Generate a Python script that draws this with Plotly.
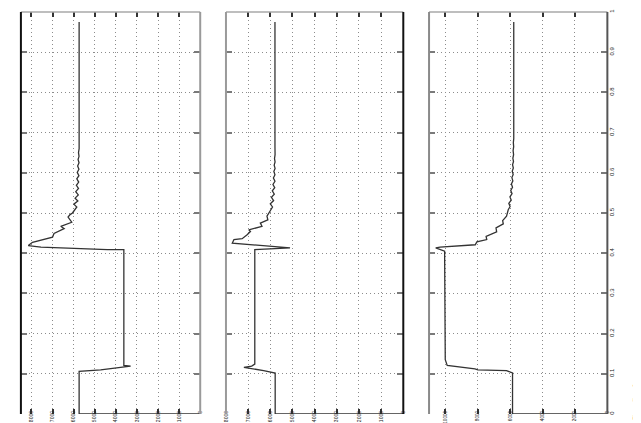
import plotly.graph_objects as go

# ---------------- data (time on vertical axis, value on horizontal axis) -------------
p1_t = [0, 0, 0.106, 0.108, 0.110, 0.119, 0.121, 0.409, 0.409, 0.415, 0.419, 0.427, 0.440,
        0.449, 0.461, 0.467, 0.477, 0.490, 0.496, 0.500, 0.508, 0.515, 0.522, 0.530, 0.537,
        0.545, 0.553, 0.561, 0.569, 0.577, 0.585, 0.593, 0.601, 0.609, 0.617, 0.625, 0.633,
        0.641, 0.650, 0.660, 0.975]
p1_v = [0, 5740, 5740, 5050, 4720, 3300, 3620, 3620, 4400, 7550, 8150, 7950, 7000,
        6930, 6450, 6610, 6090, 6265, 6170, 6055, 5945, 5850, 5990, 5800, 5930,
        5780, 5900, 5770, 5870, 5760, 5850, 5750, 5830, 5750, 5810, 5745, 5790,
        5745, 5770, 5740, 5740]

p2_t = [0, 0, 0.102, 0.104, 0.108, 0.116, 0.119, 0.124, 0.409, 0.413, 0.425, 0.434, 0.436,
        0.446, 0.454, 0.458, 0.467, 0.475, 0.483, 0.492, 0.500, 0.508, 0.515, 0.523, 0.531,
        0.539, 0.547, 0.555, 0.563, 0.571, 0.579, 0.587, 0.595, 0.603, 0.611, 0.619, 0.627,
        0.635, 0.645, 0.655, 0.665, 0.975]
p2_v = [0, 5780, 5780, 5930, 6300, 7190, 6840, 6700, 6700, 5110, 7715, 7640, 7270,
        7045, 6895, 6970, 6375, 6450, 6110, 6150, 6045, 5975, 5900, 6000, 5850,
        5950, 5820, 5910, 5800, 5880, 5790, 5860, 5790, 5840, 5785, 5825, 5785,
        5810, 5785, 5800, 5790, 5790]

p3_t = [0, 0, 0.102, 0.108, 0.110, 0.112, 0.121, 0.135, 0.405, 0.413, 0.415, 0.421, 0.428,
        0.434, 0.442, 0.453, 0.463, 0.473, 0.481, 0.492, 0.508, 0.516, 0.524, 0.532, 0.540,
        0.548, 0.556, 0.564, 0.572, 0.580, 0.588, 0.596, 0.604, 0.612, 0.620, 0.628, 0.636,
        0.645, 0.655, 0.665, 0.675, 0.685, 0.975]
p3_v = [0, 5850, 5850, 6220, 7990, 8170, 9880, 10000, 10040, 10590, 10320, 8150, 8050,
        7440, 7480, 6830, 6870, 6420, 6460, 6220, 6115, 6000, 6080, 5930, 6010,
        5880, 5960, 5850, 5920, 5830, 5890, 5810, 5870, 5800, 5850, 5790, 5830,
        5785, 5815, 5780, 5800, 5775, 5775]

p1_ticks = [0, 1000, 2000, 3000, 4000, 5000, 6000, 7000, 8000]
p2_ticks = [0, 1000, 2000, 3000, 4000, 5000, 6000, 7000, 8000]
p3_ticks = [0, 2000, 4000, 6000, 8000, 10000]
time_ticks = [0, 0.1, 0.2, 0.3, 0.4, 0.5, 0.6, 0.7, 0.8, 0.9, 1]
time_labels = ["0", "0.1", "0.2", "0.3", "0.4", "0.5", "0.6", "0.7", "0.8", "0.9", "1"]
footer_text = "Time offset: 0"

# ---------------- figure -----------------
W, H = 641, 423
FONT = "Liberation Sans, Arial, sans-serif"

panels = [
    dict(t=p1_t, v=p1_v, ticks=p1_ticks, vmax=8500, dom=(10, 191),
         left="#111111", right="#9a9a9a", fs=5),
    dict(t=p2_t, v=p2_v, ticks=p2_ticks, vmax=8000, dom=(217, 396),
         left="#9a9a9a", right="#111111", fs=5),
    dict(t=p3_t, v=p3_v, ticks=p3_ticks, vmax=11000, dom=(422, 602),
         left="#8a8a8a", right="#555555", fs=4.6),
]

GRID = dict(showgrid=True, gridcolor="#8c8c8c", griddash="1px,3px", gridwidth=1)

fig = go.Figure()
layout = {}
shapes = []
for i, p in enumerate(panels, start=1):
    sfx = "" if i == 1 else str(i)
    fig.add_trace(go.Scatter(
        x=p["v"], y=p["t"], mode="lines",
        line=dict(color="#333333", width=1.3),
        xaxis="x" + sfx, yaxis="y" + sfx, showlegend=False, hoverinfo="skip"))
    layout["xaxis" + sfx] = dict(
        domain=[p["dom"][0] / W, p["dom"][1] / W],
        range=[p["vmax"], 0], anchor="y" + sfx,
        tickvals=p["ticks"], ticktext=[str(v) for v in p["ticks"]],
        tickangle=-90, ticks="inside", ticklen=5, tickwidth=2, tickcolor="#333333",
        mirror="ticks", showline=False, zeroline=False,
        ticklabelstandoff=-5,
        tickfont=dict(family=FONT, size=p["fs"], color="#222222"),
        **GRID,
    )
    layout["yaxis" + sfx] = dict(
        domain=[0, 1], range=[0, 1], anchor="x" + sfx,
        tickvals=time_ticks, ticktext=time_labels,
        showticklabels=(i == 3), side="right" if i == 3 else "left",
        tickangle=-90, ticks="inside", ticklen=6, tickwidth=2, tickcolor="#7a7a7a",
        mirror="ticks", showline=False, zeroline=False,
        tickfont=dict(family=FONT, size=6, color="#222222"),
        **GRID,
    )
    xr, yr = "x" + sfx + " domain", "y" + sfx + " domain"
    shapes.append(dict(type="line", xref=xr, yref=yr, x0=0, x1=1, y0=1, y1=1,
                       line=dict(color="#a8a8a8", width=1.5)))
    shapes.append(dict(type="line", xref=xr, yref=yr, x0=0, x1=0, y0=0, y1=1,
                       line=dict(color=p["left"], width=2)))
    shapes.append(dict(type="line", xref=xr, yref=yr, x0=1, x1=1, y0=0, y1=1,
                       line=dict(color=p["right"], width=2)))

fig.update_layout(
    width=W, height=H,
    margin=dict(l=0, r=0, t=4, b=17),
    paper_bgcolor="white", plot_bgcolor="white",
    shapes=shapes,
    **layout,
)
fig.add_annotation(text=footer_text, xref="paper", yref="paper",
                   x=630 / W, y=0.03, textangle=-90, showarrow=False,
                   xanchor="center", yanchor="middle",
                   font=dict(family=FONT, size=6, color="#111111"))

fig.write_html("out.html")
